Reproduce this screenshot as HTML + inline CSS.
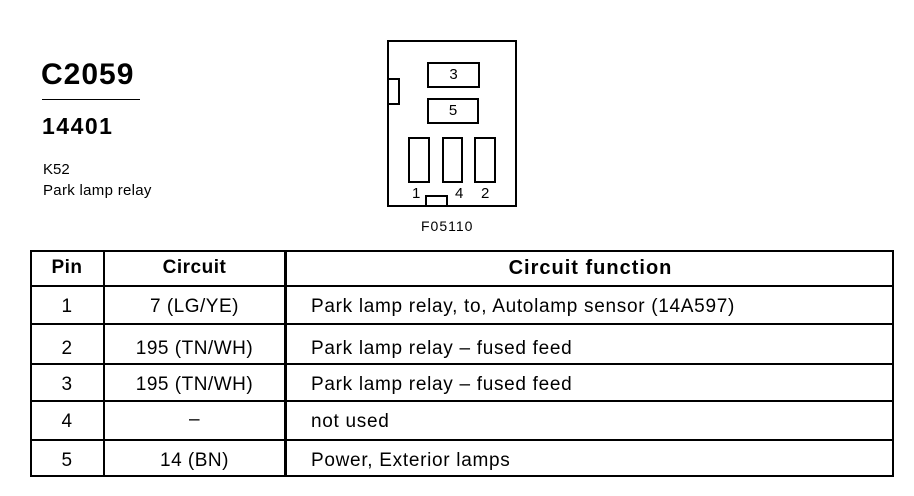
<!DOCTYPE html>
<html><head><style>
body{margin:0;width:914px;height:496px;background:#fff;position:relative;font-family:"Liberation Sans",Arial,sans-serif;color:#000;overflow:hidden}
.a{position:absolute;white-space:nowrap}
.l{position:absolute;background:#000}
.b{position:absolute;border:2px solid #000;box-sizing:border-box}
.c{position:absolute;text-align:center;font-size:19px;line-height:22px;letter-spacing:0.5px}
.t{position:absolute;white-space:nowrap;left:311px;font-size:19px;line-height:22px;letter-spacing:0.7px}
</style></head><body>
<div class="a" style="left:41px;top:58px;font-size:30px;font-weight:bold;letter-spacing:1px">C2059</div>
<div class="l" style="left:42px;top:99px;width:98px;height:1px"></div>
<div class="a" style="left:42px;top:113px;font-size:23px;font-weight:bold;letter-spacing:1.5px">14401</div>
<div class="a" style="left:43px;top:161px;font-size:15px">K52</div>
<div class="a" style="left:43px;top:182px;font-size:15px;letter-spacing:0.3px">Park lamp relay</div>

<div class="b" style="left:387px;top:40px;width:130px;height:167px"></div>
<div class="b" style="left:387px;top:78px;width:13px;height:27px"></div>
<div class="b" style="left:427px;top:62px;width:53px;height:26px;text-align:center;font-size:15px;line-height:22px">3</div>
<div class="b" style="left:427px;top:98px;width:52px;height:26px;text-align:center;font-size:15px;line-height:22px">5</div>
<div class="b" style="left:408px;top:137px;width:22px;height:46px"></div>
<div class="b" style="left:442px;top:137px;width:21px;height:46px"></div>
<div class="b" style="left:474px;top:137px;width:22px;height:46px"></div>
<div class="b" style="left:425px;top:195px;width:23px;height:12px;background:#fff"></div>
<div class="a" style="left:412px;top:185px;font-size:15px">1</div>
<div class="a" style="left:455px;top:185px;font-size:15px">4</div>
<div class="a" style="left:481px;top:185px;font-size:15px">2</div>
<div class="a" style="left:421px;top:218px;font-size:14px;letter-spacing:1px">F05110</div>

<div class="b" style="left:30px;top:250px;width:864px;height:227px"></div>
<div class="l" style="left:103px;top:250px;width:2px;height:226px"></div>
<div class="l" style="left:284px;top:250px;width:3px;height:226px"></div>
<div class="l" style="left:30px;top:285px;width:864px;height:2px"></div>
<div class="l" style="left:30px;top:323px;width:864px;height:2px"></div>
<div class="l" style="left:30px;top:363px;width:864px;height:2px"></div>
<div class="l" style="left:30px;top:400px;width:864px;height:2px"></div>
<div class="l" style="left:30px;top:439px;width:864px;height:2px"></div>

<div class="c" style="left:30px;width:74px;top:257px;font-weight:bold">Pin</div>
<div class="c" style="left:104px;width:181px;top:257px;font-weight:bold">Circuit</div>
<div class="c" style="left:287px;width:607px;top:257px;font-weight:bold;font-size:20px;letter-spacing:1px">Circuit function</div>

<div class="c" style="left:30px;width:74px;top:296px">1</div>
<div class="c" style="left:104px;width:181px;top:296px">7 (LG/YE)</div>
<div class="t" style="top:296px">Park lamp relay, to, Autolamp sensor (14A597)</div>

<div class="c" style="left:30px;width:74px;top:338px">2</div>
<div class="c" style="left:104px;width:181px;top:338px">195 (TN/WH)</div>
<div class="t" style="top:338px">Park lamp relay – fused feed</div>

<div class="c" style="left:30px;width:74px;top:374px">3</div>
<div class="c" style="left:104px;width:181px;top:374px">195 (TN/WH)</div>
<div class="t" style="top:374px">Park lamp relay – fused feed</div>

<div class="c" style="left:30px;width:74px;top:411px">4</div>
<div class="c" style="left:104px;width:181px;top:409px">–</div>
<div class="t" style="top:411px">not used</div>

<div class="c" style="left:30px;width:74px;top:450px">5</div>
<div class="c" style="left:104px;width:181px;top:450px">14 (BN)</div>
<div class="t" style="top:450px">Power, Exterior lamps</div>
</body></html>
